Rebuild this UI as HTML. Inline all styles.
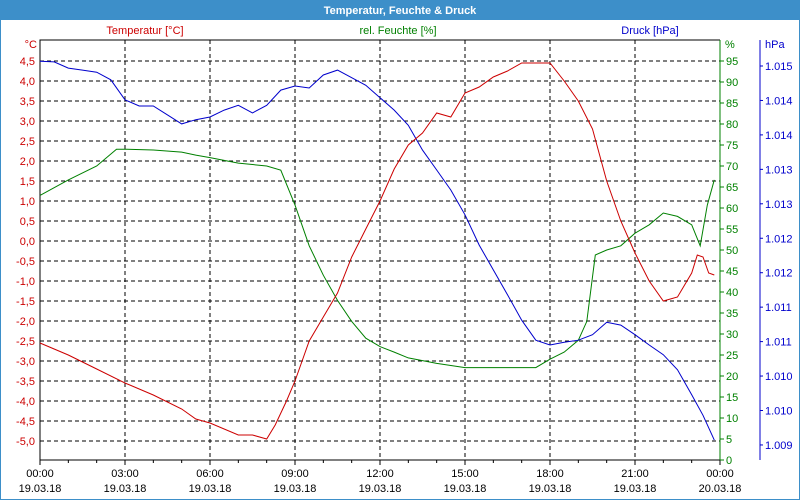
<!DOCTYPE html>
<html><head><meta charset="utf-8"><style>
body{margin:0;background:#fff;}
svg{display:block;font-family:"Liberation Sans","DejaVu Sans",sans-serif;}
</style></head><body>
<svg id="c" width="800" height="500" viewBox="0 0 800 500" xmlns="http://www.w3.org/2000/svg">
<rect x="0" y="0" width="800" height="500" fill="#fff"/>
<rect x="0" y="0" width="800" height="20" fill="#3d8fc9"/>
<rect x="0.5" y="0.5" width="799" height="499" fill="none" stroke="#3d8fc9"/>
<text x="400" y="14" text-anchor="middle" fill="#fff" font-weight="bold" font-size="11">Temperatur, Feuchte &amp; Druck</text>
<text x="145" y="34" text-anchor="middle" fill="#cc0000" font-size="11">Temperatur [°C]</text>
<text x="398" y="34" text-anchor="middle" fill="#008000" font-size="11">rel. Feuchte [%]</text>
<text x="650" y="34" text-anchor="middle" fill="#0000cc" font-size="11">Druck [hPa]</text>
<g id="grid"></g><g id="axes"></g><g id="series"></g>
</svg>
<script>
const tempTicks=[4.5,4.0,3.5,3.0,2.5,2.0,1.5,1.0,0.5,0.0,-0.5,-1.0,-1.5,-2.0,-2.5,-3.0,-3.5,-4.0,-4.5,-5.0];
const humTicks=[0,5,10,15,20,25,30,35,40,45,50,55,60,65,70,75,80,85,90,95];
const presTicks=[1015.0,1014.5,1014.0,1013.5,1013.0,1012.5,1012.0,1011.5,1011.0,1010.5,1010.0,1009.5];
const presTickLabels=["1.015","1.014","1.014","1.013","1.013","1.012","1.012","1.011","1.011","1.010","1.010","1.009"];
const timeLabels=["00:00","03:00","06:00","09:00","12:00","15:00","18:00","21:00","00:00"];
const dateLabels=["19.03.18","19.03.18","19.03.18","19.03.18","19.03.18","19.03.18","19.03.18","19.03.18","20.03.18"];
const tempTimes=[0,1,2,3,4,5,5.5,6,7,7.5,8,8.3,8.7,9,9.5,10,10.5,11,11.5,12,12.5,13,13.5,14,14.5,15,15.5,16,16.5,17,17.5,18,18.5,19,19.5,20,20.5,21,21.5,22,22.5,23,23.2,23.4,23.6,23.8];
const tempValues=[-2.55,-2.85,-3.2,-3.55,-3.85,-4.2,-4.45,-4.55,-4.85,-4.85,-4.95,-4.6,-4.0,-3.5,-2.5,-1.9,-1.3,-0.4,0.3,1.0,1.8,2.4,2.7,3.2,3.1,3.7,3.85,4.1,4.25,4.45,4.45,4.45,4.0,3.5,2.8,1.5,0.5,-0.3,-1.0,-1.5,-1.4,-0.8,-0.35,-0.4,-0.8,-0.85];
const humTimes=[0,1,2,2.7,3,4,5,5.5,6,7,8,8.5,9,9.5,10,10.5,11,11.5,12,12.5,13,14,15,16,17,17.5,18,18.5,19,19.3,19.6,20,20.5,21,21.5,22,22.5,23,23.3,23.55,23.8];
const humValues=[63,66.7,70,74,74,73.8,73.3,72.6,72,70.7,70,69,60.7,51,44,38,33,29,27,25.7,24.3,23,22,22,22,22,24,25.7,28.5,33,48.8,50,51,54,56,58.8,58,56,51,60.7,66.7];
const presTimes=[0,0.5,1,1.5,2,2.5,3,3.5,4,4.5,5,5.5,6,6.5,7,7.5,8,8.5,9,9.5,10,10.5,11,11.5,12,12.5,13,13.5,14,14.5,15,15.5,16,16.5,17,17.5,18,18.5,19,19.5,20,20.5,21,21.5,22,22.5,23,23.4,23.8];
const presValues=[1015.07,1015.06,1014.97,1014.94,1014.91,1014.80,1014.51,1014.42,1014.42,1014.29,1014.16,1014.22,1014.26,1014.36,1014.43,1014.32,1014.43,1014.65,1014.71,1014.68,1014.87,1014.94,1014.83,1014.72,1014.54,1014.36,1014.14,1013.78,1013.49,1013.20,1012.84,1012.40,1012.04,1011.68,1011.31,1011.02,1010.95,1010.99,1011.02,1011.10,1011.28,1011.24,1011.10,1010.95,1010.81,1010.59,1010.23,1009.93,1009.57];
const L=40,R=720,T=40,B=460;
const xT=h=>L+h*(R-L)/24;
const yT=t=>61+(4.5-t)*40;
const yH=h=>460-h*4.2;
const yP=p=>66+(1015-p)*68.9;
const NS="http://www.w3.org/2000/svg";
function mk(tag,attrs,parent,txt){const e=document.createElementNS(NS,tag);for(const k in attrs)e.setAttribute(k,attrs[k]);if(txt!==undefined)e.textContent=txt;document.getElementById(parent).appendChild(e);return e;}
tempTicks.forEach(t=>{
 const g=mk('line',{x1:L,x2:R,y1:yT(t),y2:yT(t),stroke:'#000','stroke-dasharray':'4,3','stroke-width':1},'grid');
 
 
 const l=mk('text',{x:35,y:yT(t)+4,'text-anchor':'end',fill:'#cc0000','font-size':11},'axes',t.toFixed(1).replace('.',',').replace('-0,0','0,0'));
 
 
});
for(let i=1;i<8;i++){
 const g=mk('line',{x1:xT(i*3),x2:xT(i*3),y1:T,y2:B,stroke:'#000','stroke-dasharray':'4,3'},'grid');
 
 
}
for(let h=0;h<=24;h++){
 const tk=mk('line',{x1:xT(h),x2:xT(h),y1:B,y2:B+(h%3==0?5:3),stroke:'#000'},'axes');
 
 
}
timeLabels.forEach((s,i)=>{
 const a=mk('text',{x:xT(i*3),y:477,'text-anchor':'middle',fill:'#000','font-size':11},'axes',s);
 
 
 const b=mk('text',{x:xT(i*3),y:492,'text-anchor':'middle',fill:'#000','font-size':11},'axes',dateLabels[i]);
 
 
});
let f=mk('path',{d:`M${L},${B}V${T}H${R}M${L},${B}H${R}`,stroke:'#000',fill:'none'},'axes');


let ga=mk('line',{x1:R,x2:R,y1:T,y2:B,stroke:'#008000'},'axes');


humTicks.forEach(h=>{
 const t=mk('line',{x1:R,x2:R+4,y1:yH(h),y2:yH(h),stroke:'#008000'},'axes');
 
 
 const l=mk('text',{x:726,y:yH(h)+4,fill:'#008000','font-size':11},'axes',String(h));
 
 
});
let pa=mk('line',{x1:760,x2:760,y1:T,y2:B,stroke:'#0000cc'},'axes');


presTicks.forEach((p,i)=>{
 const t=mk('line',{x1:760,x2:763,y1:yP(p),y2:yP(p),stroke:'#0000cc'},'axes');
 
 
 const l=mk('text',{x:765,y:yP(p)+4,fill:'#0000cc','font-size':11},'axes',presTickLabels[i]);
 
 
});
[['°C',37,'#cc0000','end'],['%',725,'#008000','start'],['hPa',765,'#0000cc','start']].forEach(u=>{
 const l=mk('text',{x:u[1],y:48,fill:u[2],'font-size':11,'text-anchor':u[3]},'axes',u[0]);
 
 
});
function line(ts,vs,yf,col,name){
 const d=ts.map((t,i)=>(i?'L':'M')+xT(t).toFixed(1)+','+yf(vs[i]).toFixed(1)).join('');
 const p=mk('path',{d:d,stroke:col,fill:'none','stroke-width':1},'series');
 
 
}
line(humTimes,humValues,yH,'#008000','humidity-line');
line(presTimes,presValues,yP,'#0000cc','pressure-line');
line(tempTimes,tempValues,yT,'#cc0000','temperature-line');
</script>
</body></html>
